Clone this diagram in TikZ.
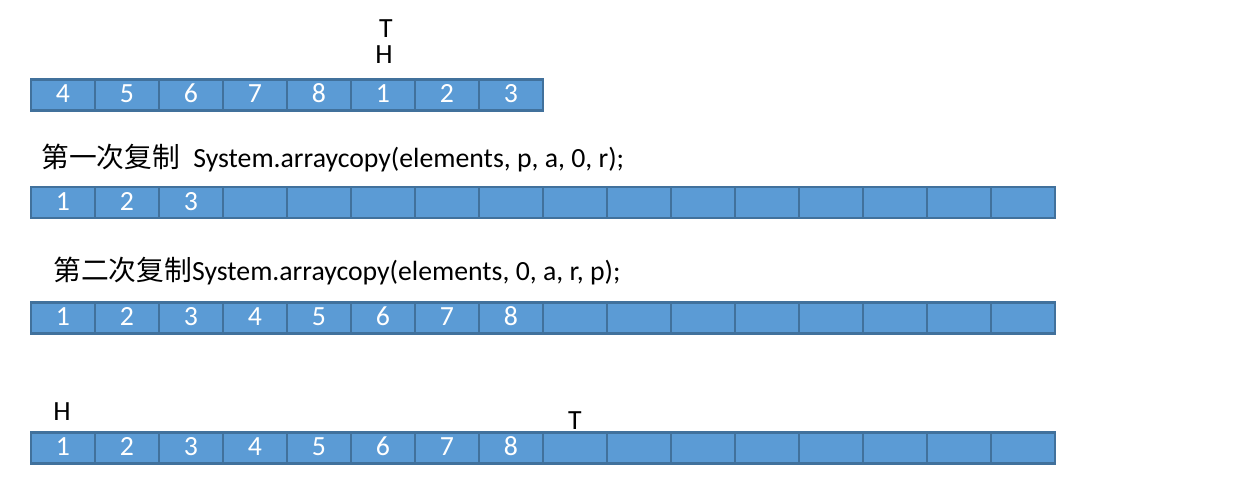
\documentclass[tikz,border=0pt]{standalone}
\usepackage{fontspec}
\setmainfont{Carlito}
\newfontfamily\cjk{Noto Sans CJK SC}
\usetikzlibrary{positioning}
\definecolor{cellfill}{HTML}{5B9BD5}
\definecolor{celledge}{HTML}{41719C}

\begin{document}
\begin{tikzpicture}[
    x=0.02cm, y=-0.02cm,
    every node/.style={font=\fontsize{15.8}{19}\selectfont},
    cell/.style={
        rectangle, draw=celledge, fill=cellfill, line width=1.2pt,
        minimum width=1.28cm, minimum height=0.62cm, inner sep=0pt, text=white,
        text height=0.86em, text depth=0pt,
    },
    ptr/.style={text=black, inner sep=0pt},
    code/.style={anchor=west, inner sep=0pt, text=black},
]
\useasboundingbox (0,0) rectangle (1242,496);

% ============================================================ the full ring
\foreach \v [count=\i] in {4,5,6,7,8,1,2,3}{
    \node[cell] (a\i) at ({63+64*(\i-1)}, 95) {\v};
}
\node[ptr] (t1) at (386, 29) {T};
\node[ptr] (h1) at (384, 55) {H};

% ============================================================ first copy
\node[code] (code1) at (41, 158)
    {{\cjk 第一次复制}\hspace{0.14cm} System.arraycopy(elements, p, a, 0, r);};
\foreach \v [count=\i] in {1,2,3,{},{},{},{},{},{},{},{},{},{},{},{},{}}{
    \node[cell] (b\i) at ({63+64*(\i-1)}, 202.5) {\v};
}

% ============================================================ second copy
\node[code] (code2) at (53, 271)
    {{\cjk 第二次复制}System.arraycopy(elements, 0, a, r, p);};
\foreach \v [count=\i] in {1,2,3,4,5,6,7,8,{},{},{},{},{},{},{},{}}{
    \node[cell] (c\i) at ({63+64*(\i-1)}, 318) {\v};
}

% ============================================================ after the copy
\node[ptr] (h4) at (62, 412) {H};
\node[ptr] (t4) at (575, 421) {T};
\foreach \v [count=\i] in {1,2,3,4,5,6,7,8,{},{},{},{},{},{},{},{}}{
    \node[cell] (d\i) at ({63+64*(\i-1)}, 448) {\v};
}

\end{tikzpicture}
\end{document}
